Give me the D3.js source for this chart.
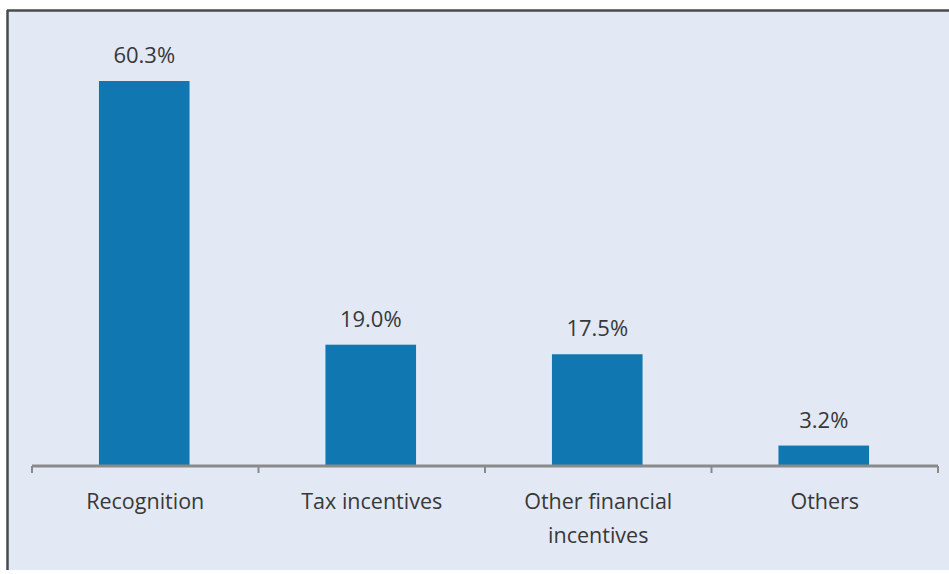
<!DOCTYPE html>
<html>
<head>
<meta charset="utf-8">
<script src="https://cdn.jsdelivr.net/npm/d3@7"></script>
<style>
  html, body { margin:0; padding:0; background:#fff; }
  svg { display:block; }
</style>
</head>
<body>
<div id="chart"></div>
<script>
// data
var categories = ["Recognition", "Tax incentives", "Other financial incentives", "Others"]
var catLines = [["Recognition"], ["Tax incentives"], ["Other financial", "incentives"], ["Others"]]
var values = [60.3, 19.0, 17.5, 3.2]

var W = 949, H = 574
var margin = {top: 81, right: 11, bottom: 108, left: 32}
var maxVal = 60.3

var svg = d3.select("#chart").append("svg")
    .attr("width", W).attr("height", H)

// panel background + frame (top and left edges only visible)
svg.append("rect").attr("x", 8).attr("y", 11).attr("width", W - 8).attr("height", H - 15)
    .attr("fill", "#e2e9f5")
svg.append("line").attr("x1", 7).attr("x2", W).attr("y1", 10.5).attr("y2", 10.5)
    .attr("stroke", "#4a4a4a").attr("stroke-width", 2.5)
svg.append("line").attr("x1", 7.5).attr("x2", 7.5).attr("y1", 10).attr("y2", 570)
    .attr("stroke", "#4a4a4a").attr("stroke-width", 2.5)

var innerW = W - margin.left - margin.right
var innerH = H - margin.top - margin.bottom
var g = svg.append("g").attr("transform", "translate(" + margin.left + "," + margin.top + ")")

var x = d3.scaleBand().domain(categories).range([0, innerW]).padding(0)
var y = d3.scaleLinear().domain([0, maxVal]).range([innerH, 0])
var barW = x.bandwidth() * 0.4

// bars
g.selectAll("rect.bar").data(values).enter().append("rect")
    .attr("class", "bar")
    .attr("x", (d, i) => x(categories[i]) + (x.bandwidth() - barW) / 2 - 1)
    .attr("y", d => y(d))
    .attr("width", barW)
    .attr("height", d => innerH - y(d))
    .attr("fill", "#1077b0")

// value labels
g.selectAll("text.val").data(values).enter().append("text")
    .attr("class", "val")
    .attr("x", (d, i) => x(categories[i]) + x.bandwidth() / 2 - 1)
    .attr("y", d => y(d) - 18)
    .attr("text-anchor", "middle")
    .attr("font-family", "'Open Sans', sans-serif")
    .attr("font-size", 22)
    .attr("fill", "#383838")
    .text(d => d.toFixed(1) + "%")

// x axis: ticks at band edges
var edges = categories.map(c => x(c)).concat([innerW])
var ax = g.append("g").attr("transform", "translate(0," + innerH + ")")
ax.append("line").attr("x1", 0).attr("x2", innerW).attr("y1", 0).attr("y2", 0)
    .attr("stroke", "#8a8a8a").attr("stroke-width", 3)
ax.selectAll("line.tick").data(edges).enter().append("line")
    .attr("class", "tick")
    .attr("x1", d => d).attr("x2", d => d).attr("y1", 0).attr("y2", 7)
    .attr("stroke", "#8a8a8a").attr("stroke-width", 2)

// category labels
var lab = ax.selectAll("text.cat").data(categories).enter().append("text")
    .attr("class", "cat")
    .attr("x", d => x(d) + x.bandwidth() / 2)
    .attr("y", 43)
    .attr("text-anchor", "middle")
    .attr("font-family", "'Open Sans', sans-serif")
    .attr("font-size", 21.5)
    .attr("fill", "#383838")
lab.selectAll("tspan").data((d, i) => catLines[i]).enter().append("tspan")
    .attr("x", function() { return d3.select(this.parentNode).attr("x") })
    .attr("dy", (d, i) => i ? 34 : 0)
    .text(d => d)
</script>
</body>
</html>
